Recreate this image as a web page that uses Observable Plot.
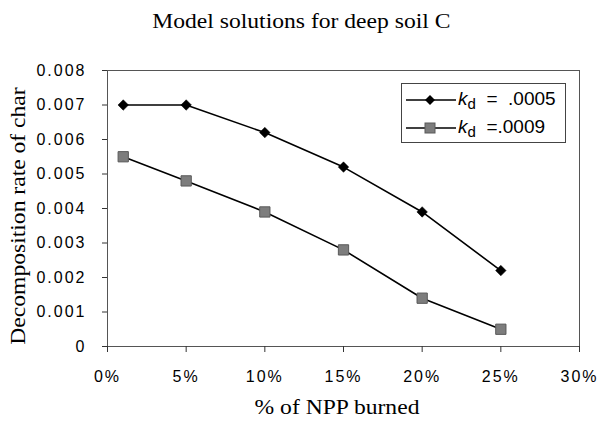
<!DOCTYPE html>
<html>
<head>
<meta charset="utf-8">
<script src="https://cdn.jsdelivr.net/npm/d3@7"></script>
<script src="https://cdn.jsdelivr.net/npm/@observablehq/plot@0.6"></script>
<style>
  body { margin: 0; background: #fff; width: 602px; height: 424px; overflow: hidden; position: relative; }
  #title { height: 50px; font-family: "Liberation Serif", "DejaVu Serif", serif; font-size: 20px; text-align: center; line-height: 20px; box-sizing: border-box; }
  #title span { display: inline-block; position: relative; top: 11px; transform: scaleX(1.18); transform-origin: center; }
  #legend { position: absolute; left: 401px; top: 83px; width: 165px; height: 60px; border: 1px solid #444; box-sizing: border-box; background: #fff; font-family: "Liberation Sans", Arial, sans-serif; font-size: 19px; }
  .row { position: absolute; left: 0; height: 28px; display: flex; align-items: center; }
  .row svg { margin-left: 4px; }
  .row .lab { margin-left: 2px; white-space: pre; }
  sub { font-size: 15px; vertical-align: -4px; }
</style>
</head>
<body>
<div id="title"><span>Model solutions for deep soil C</span></div>
<div id="chart"></div>
<script>
const burned = [1, 5, 10, 15, 20, 25];
const kd0005 = [0.0070, 0.0070, 0.0062, 0.0052, 0.0039, 0.0022];
const kd0009 = [0.0055, 0.0048, 0.0039, 0.0028, 0.0014, 0.0005];
const seriesNames = ["kd = .0005", "kd =.0009"];
const xTicks = [0, 5, 10, 15, 20, 25, 30];
const yTicks = [0, 0.001, 0.002, 0.003, 0.004, 0.005, 0.006, 0.007, 0.008];

const rows = [];
burned.forEach((b, i) => {
  rows.push({burned: b, rate: kd0005[i], series: seriesNames[0]});
  rows.push({burned: b, rate: kd0009[i], series: seriesNames[1]});
});
const s1 = rows.filter(d => d.series === seriesNames[0]);
const s2 = rows.filter(d => d.series === seriesNames[1]);

// square-proportioned diamond symbol (rhombus with equal diagonals)
const diamondSym = {
  draw(context, size) {
    const r = Math.sqrt(size / 2);
    context.moveTo(0, -r);
    context.lineTo(r, 0);
    context.lineTo(0, r);
    context.lineTo(-r, 0);
    context.closePath();
  }
};

const yFmt = d => d === 0 ? "0" : d.toFixed(3);
const chart = Plot.plot({
  width: 602,
  height: 374,
  marginLeft: 107,
  marginRight: 23,
  marginTop: 20,
  marginBottom: 78,
  style: {fontFamily: "'Liberation Sans', Arial, sans-serif", fontSize: "16px", color: "#000", background: "#fff"},
  x: {domain: [0, 30], ticks: xTicks, tickFormat: d => d + "%", label: null},
  y: {domain: [0, 0.008], ticks: yTicks, tickFormat: yFmt, label: null},
  marks: [
    Plot.frame({stroke: "#555", strokeWidth: 1}),
    Plot.axisY({ticks: yTicks, tickFormat: yFmt, tickSize: 5, tickPadding: 16, fontSize: 16, label: null, stroke: "#333"}),
    Plot.axisX({ticks: xTicks, tickFormat: d => d + "%", tickSize: 6, tickPadding: 18, fontSize: 16, label: null, stroke: "#333"}),
    Plot.line(s1, {x: "burned", y: "rate", stroke: "#000", strokeWidth: 1.6}),
    Plot.line(s2, {x: "burned", y: "rate", stroke: "#000", strokeWidth: 1.6}),
    Plot.dot(s1, {x: "burned", y: "rate", symbol: diamondSym, r: 4.2, fill: "#000", stroke: "#000", strokeWidth: 0.5}),
    Plot.dot(s2, {x: "burned", y: "rate", symbol: "square", r: 5.8, fill: "#7d7d7d", stroke: "#5a5a5a", strokeWidth: 1})
  ]
});
document.getElementById("chart").appendChild(chart);

const svg = d3.select(chart.tagName.toLowerCase() === "svg" ? chart : chart.querySelector("svg"));
svg.selectAll('g[aria-label="y-axis tick label"], g[aria-label="x-axis tick label"]')
  .attr("font-size", 16)
  .style("letter-spacing", "2px");

svg.append("text")
  .attr("transform", "translate(337,364) scale(1.18,1)")
  .attr("text-anchor", "middle")
  .attr("font-family", "'Liberation Serif', serif")
  .attr("font-size", 20)
  .text("% of NPP burned");
svg.append("text")
  .attr("transform", "translate(25,166) rotate(-90) scale(1.18,1)")
  .attr("text-anchor", "middle")
  .attr("font-family", "'Liberation Serif', serif")
  .attr("font-size", 20)
  .text("Decomposition rate of char");

// legend
const legend = document.createElement("div");
legend.id = "legend";
const marker = [
  '<polygon points="24,2 29,7 24,12 19,7" fill="#000"/>',
  '<rect x="19" y="2" width="10" height="10" fill="#7d7d7d" stroke="#5a5a5a"/>'
];
const labels = ['<i>k</i><sub>d</sub>  =  .0005', '<i>k</i><sub>d</sub>  =.0009'];
seriesNames.forEach((name, i) => {
  const row = document.createElement("div");
  row.className = "row";
  row.style.top = (i === 0 ? 2 : 30) + "px";
  row.innerHTML = `<svg width="50" height="14"><line x1="0" x2="50" y1="7" y2="7" stroke="#000" stroke-width="1.6"/>${marker[i]}</svg><span class="lab">${labels[i]}</span>`;
  legend.appendChild(row);
});
document.body.appendChild(legend);
</script>
</body>
</html>
